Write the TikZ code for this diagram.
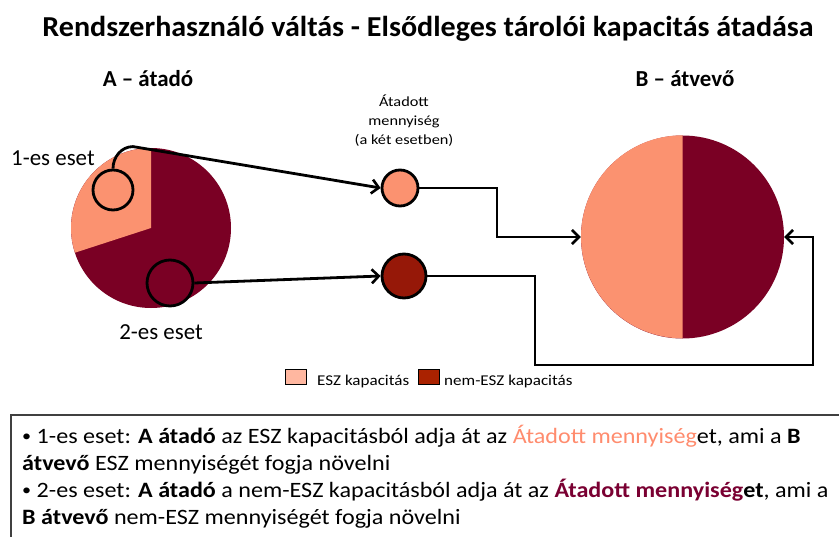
\documentclass[tikz,border=0pt]{standalone}
\usepackage{fontspec}
\setmainfont{Carlito}
\usetikzlibrary{arrows.meta}
\definecolor{lightC}{RGB}{251,146,112}
\definecolor{darkC}{RGB}{122,0,36}
\definecolor{midC}{RGB}{150,24,8}
\definecolor{legL}{RGB}{255,183,160}
\definecolor{legD}{RGB}{170,34,0}
\definecolor{salT}{RGB}{255,140,110}
\definecolor{marT}{RGB}{122,0,50}
\newcommand{\smallbul}{\raisebox{0.15ex}{\scalebox{0.75}{\textbullet}}}
\tikzset{
  conn/.style={line width=2.8bp, black},
  arr/.style={conn, -{Straight Barb[length=7bp,width=14bp,line width=2.6bp]}},
  dot/.style={circle, draw=black, line width=2.8bp, inner sep=0pt},
  legbox/.style={draw=black, line width=1.4bp, minimum width=21bp, minimum height=15bp, inner sep=0pt},
  txtline/.style={anchor=base west, inner sep=0pt, font=\fontsize{22}{26}\selectfont, xscale=1.1, transform shape},
}
\begin{document}
\begin{tikzpicture}[x=1bp,y=-1bp]
\useasboundingbox (0,0) rectangle (839,537);
\fill[white] (0,0) rectangle (839,537);
% title
\node[font=\bfseries\fontsize{29}{33}\selectfont, xscale=1.04, transform shape] (title) at (428,29) {Rendszerhasználó váltás - Elsődleges tárolói kapacitás átadása};
\node[font=\bfseries\fontsize{23}{26}\selectfont] (labA) at (148,79) {A – átadó};
\node[font=\bfseries\fontsize{23}{26}\selectfont] (labB) at (685,79) {B – átvevő};
% pie A
\node[circle, fill=darkC, minimum size=160bp, inner sep=0pt] (pA) at (151,228) {};
\fill[lightC] (pA.center) -- ++(-90:80) arc[start angle=-90, end angle=-198, radius=80] -- cycle;
% pie B
\node[circle, fill=darkC, minimum size=203bp, inner sep=0pt] (pB) at (682.5,237) {};
\fill[lightC] (pB.north) arc[start angle=-90, end angle=-270, radius=101.5] -- cycle;
% small circles
\node[dot, fill=lightC, minimum size=40bp] (c1) at (113,190) {};
\node[dot, fill=darkC, minimum size=46bp] (c2) at (170,283) {};
\node[dot, fill=lightC, minimum size=36bp] (t1) at (400,188) {};
\node[dot, fill=midC, minimum size=44bp] (t2) at (404,276) {};
% labels
\node[anchor=west, inner sep=0pt, font=\fontsize{23}{26}\selectfont] (case1) at (11,158) {1-es eset};
\node[font=\fontsize{23}{26}\selectfont] (case2) at (161,332) {2-es eset};
\node[align=center, font=\fontsize{14}{19}\selectfont, xscale=1.17, transform shape] (qty) at (404,121) {Átadott\\mennyiség\\(a két esetben)};
% connectors
\draw[arr] (c1.north) to[out=90, in=180] ++(20,-22) -- (t1.west);
\draw[arr] (c2.east) -- (t2.west);
\draw[arr] (t1.east) -- (497,188) |- (pB.west);
\draw[arr] (t2.east) -- (535,276) -- (535,365) -- (813,365) |- (pB.east);
% legend
\node[legbox, fill=legL] (l1) at (296,377) {};
\node[anchor=west, inner sep=0pt, font=\fontsize{15}{17}\selectfont, xscale=1.14, transform shape] (l1t) at (317,382) {ESZ kapacitás};
\node[legbox, fill=legD] (l2) at (429,377) {};
\node[anchor=west, inner sep=0pt, font=\fontsize{15}{17}\selectfont, xscale=1.14, transform shape] (l2t) at (444,382) {nem-ESZ kapacitás};
% bottom box
\draw[line width=1.5bp, black!75] (11,415) rectangle (860,560);
\node[txtline] (b1) at (22,443) {\smallbul{} 1-es eset: \textbf{A átadó} az ESZ kapacitásból adja át az \textcolor{salT}{Átadott mennyiség}et, ami a \textbf{B}};
\node[txtline] (b2) at (22,470) {\textbf{átvevő} ESZ mennyiségét fogja növelni};
\node[txtline] (b3) at (22,497) {\smallbul{} 2-es eset: \textbf{A átadó} a nem-ESZ kapacitásból adja át az \textbf{\textcolor{marT}{Átadott mennyiség}et}, ami a};
\node[txtline] (b4) at (22,524) {\textbf{B átvevő} nem-ESZ mennyiségét fogja növelni};
\end{tikzpicture}
\end{document}
